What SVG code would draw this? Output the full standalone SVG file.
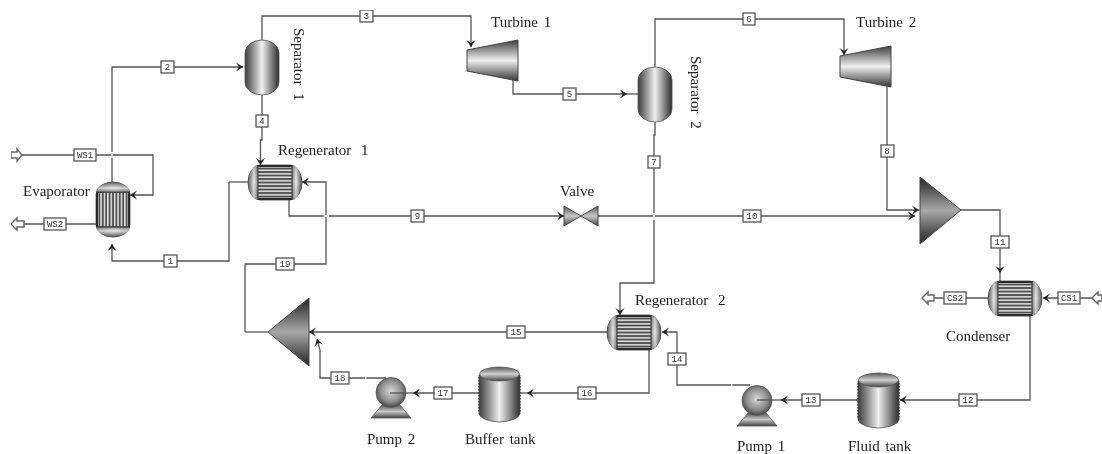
<svg xmlns="http://www.w3.org/2000/svg" xmlns:xlink="http://www.w3.org/1999/xlink" width="1102" height="454" viewBox="0 0 1102 454">
<style>
.c{fill:none;stroke:#555;stroke-width:1.3}
.a{marker-end:url(#ah)}
.gap{fill:none;stroke:#fff;stroke-width:1.6}
.tag rect{fill:#fff;stroke:#555;stroke-width:1.3}
.tag text{font-family:"Liberation Mono",monospace;font-size:9px;fill:#333;text-anchor:middle}
.lbl{font-family:"Liberation Serif",serif;font-size:15px;fill:#222;word-spacing:2px}
.wide{word-spacing:6px}
.port{fill:#fff;stroke:#666;stroke-width:1.4}
.ol{stroke:#555;stroke-width:.8}
</style>
<defs>
<filter id="soft" x="0" y="0" width="100%" height="100%"><feGaussianBlur stdDeviation="0.35"/></filter>
<marker id="ah" viewBox="-8 -5 9 10" refX="0" refY="0" markerWidth="9" markerHeight="10" markerUnits="userSpaceOnUse" orient="auto"><path d="M-7,-4.500 L0,0 L-7,4.500 L-4,0 Z" fill="#222"/></marker>
<linearGradient id="gh"><stop offset="0" stop-color="#3c3c3c"/><stop offset=".3" stop-color="#a8a8a8"/><stop offset=".5" stop-color="#f0f0f0"/><stop offset=".72" stop-color="#9a9a9a"/><stop offset="1" stop-color="#2e2e2e"/></linearGradient>
<linearGradient id="gv" x2="0" y2="1"><stop offset="0" stop-color="#3c3c3c"/><stop offset=".5" stop-color="#f0f0f0"/><stop offset="1" stop-color="#333"/></linearGradient>
<linearGradient id="gm" x2="0" y2="1"><stop offset="0" stop-color="#222"/><stop offset=".5" stop-color="#a8a8a8"/><stop offset="1" stop-color="#222"/></linearGradient>
<linearGradient id="gvalve" x2="0" y2="1"><stop offset="0" stop-color="#555"/><stop offset=".5" stop-color="#c8c8c8"/><stop offset="1" stop-color="#444"/></linearGradient>
<linearGradient id="gcap" x2="0" y2="1"><stop offset="0" stop-color="#555"/><stop offset=".5" stop-color="#d0d0d0"/><stop offset="1" stop-color="#444"/></linearGradient>
<radialGradient id="gp" cx=".5" cy=".45" r=".6"><stop offset="0" stop-color="#d8d8d8"/><stop offset=".6" stop-color="#8c8c8c"/><stop offset="1" stop-color="#333"/></radialGradient>
<pattern id="st" width="10" height="3.500" patternUnits="userSpaceOnUse"><rect width="10" height="3.500" fill="#505050"/><rect y="1" width="10" height="1.600" fill="#e0e0e0"/></pattern>
<symbol id="hx" width="54" height="35" viewBox="0 0 54 35" overflow="visible">
<path d="M12,0 H42 A12,17.500 0 0 1 42,35 H12 A12,17.500 0 0 1 12,0 Z" fill="url(#gcap)" stroke="#444" stroke-width=".8"/>
<path d="M12,0 A12,17.500 0 0 0 12,35 Z" fill="url(#gh)" opacity=".75"/>
<path d="M42,0 A12,17.500 0 0 1 42,35 Z" fill="url(#gh)" opacity=".75"/>
<rect x="10" y="0" width="34" height="35" fill="url(#st)"/>
<rect x="10" y="0" width="34" height="2" fill="#2a2a2a"/><rect x="10" y="33" width="34" height="2" fill="#2a2a2a"/>
<path d="M10,0 V35 M44,0 V35" stroke="#333" stroke-width="1" fill="none"/>
</symbol>
<symbol id="sep" width="34" height="55" viewBox="0 0 34 55" overflow="visible">
<path d="M0,13 A17,13 0 0 1 34,13 V42 A17,13 0 0 1 0,42 Z" fill="url(#gh)" class="ol"/>
</symbol>
<symbol id="tank" width="41" height="55" viewBox="0 0 41 55" overflow="visible">
<path d="M0,8 V47 Q3,54 20.500,55 Q38,54 41,47 V8 Z" fill="url(#gh)" class="ol"/>
<ellipse cx="20.500" cy="7" rx="20" ry="7" fill="url(#gcap)" class="ol"/>
<path d="M0,10 V46 M41,10 V46" stroke="#333" stroke-width="1.200" stroke-dasharray="1.500 1.500" fill="none"/>
</symbol>
<symbol id="pump" width="40" height="41" viewBox="0 0 40 41" overflow="visible">
<path d="M0,41 L11,28 H29 L40,41 Z" fill="url(#gvalve)" class="ol"/>
<circle cx="20" cy="15.500" r="15" fill="url(#gp)" class="ol"/>
</symbol>
<symbol id="turb" width="52" height="41" viewBox="0 0 52 41" overflow="visible">
<path d="M0,10 L51,0 V41 L0,31 Z" fill="url(#gv)" stroke="#444" stroke-width="1"/>
</symbol>
</defs>
<rect width="1102" height="454" fill="#fff"/>
<g filter="url(#soft)">
<g id="connectors">
<path class="c" d="M229,182 H248"/>
<path class="c a" d="M229,182 V261 H112 V244"/>
<path class="c a" d="M112,182 V67 H243"/>
<path class="c a" d="M262,40 V16 H471 V47"/>
<path class="c a" d="M262,94 V140 H260.500 V165"/>
<path class="c a" d="M22,155 H153 V195 H130"/>
<path class="c" d="M96,224 H24"/>
<path class="c a" d="M245,332 V264 H326 V182 H302"/>
<path class="c" d="M245,332 H268"/>
<path class="c a" d="M289,200 V216 H564"/>
<path class="c a" d="M598,216 H915"/>
<path class="c a" d="M513,80 V94 H627"/><path class="c" d="M627,94 H638"/>
<path class="c a" d="M655,67 V19 H844 V55"/>
<path class="c a" d="M655,121 V135 H654 V283 H620 V315"/>
<path class="c a" d="M887,87 V210 H919"/>
<path class="c a" d="M961,210 H1000 V273"/><path class="c" d="M1000,273 V281"/>
<path class="c a" d="M1092,298 H1043"/>
<path class="c" d="M988,298 H934"/>
<path class="c a" d="M1030,315 V400 H900"/>
<path class="c a" d="M858,400 H781"/><path class="c" d="M781,400 H757"/>
<path class="c a" d="M750,385 H677 V332 H662"/>
<path class="c a" d="M649,350 V393 H527"/><path class="c" d="M527,393 H520"/>
<path class="c a" d="M479,393 H413"/><path class="c" d="M413,393 H390"/>
<path class="c a" d="M607,332 H309"/>
<path class="c a" d="M386,378 H320 V350 L317,339"/>
<path class="gap" d="M112,152 V158 M654,213 V220 M323.500,216 H329 M731,385 H732.500 M365,378 H366.500"/>

<path class="port" d="M11,152 H17 V149 L22,155 L17,161 V158 H11 Z"/>
<path class="port" d="M11,224 L17,218 V221 H24 V227 H17 V230 Z"/>
<path class="port" d="M922,298 L928,292 V295 H934 V301 H928 V304 Z"/>
<path class="port" d="M1092,298 L1098,292 V295 H1102 V301 H1098 V304 Z"/>

<g class="tag"><rect x="161" y="61" width="13" height="12"/><text x="167.500" y="70">2</text></g>
<g class="tag"><rect x="360" y="10" width="13" height="12"/><text x="366.500" y="19">3</text></g>
<g class="tag"><rect x="256" y="115" width="12" height="12"/><text x="262" y="124">4</text></g>
<g class="tag"><rect x="74" y="149" width="22" height="12"/><text x="85" y="158">WS1</text></g>
<g class="tag"><rect x="44" y="218" width="22" height="12"/><text x="55" y="227">WS2</text></g>
<g class="tag"><rect x="164" y="255" width="13" height="12"/><text x="170.500" y="264">1</text></g>
<g class="tag"><rect x="276" y="258" width="18" height="12"/><text x="285" y="267">19</text></g>
<g class="tag"><rect x="411" y="210" width="13" height="12"/><text x="417.500" y="219">9</text></g>
<g class="tag"><rect x="743" y="210" width="18" height="12"/><text x="752" y="219">10</text></g>
<g class="tag"><rect x="563" y="88" width="13" height="12"/><text x="569.500" y="97">5</text></g>
<g class="tag"><rect x="743" y="13" width="12" height="12"/><text x="749" y="22">6</text></g>
<g class="tag"><rect x="648" y="156" width="12" height="12"/><text x="654" y="165">7</text></g>
<g class="tag"><rect x="881" y="145" width="13" height="12"/><text x="887" y="154">8</text></g>
<g class="tag"><rect x="991" y="236" width="18" height="12"/><text x="1000" y="245">11</text></g>
<g class="tag"><rect x="1058" y="292" width="22" height="12"/><text x="1069" y="301">CS1</text></g>
<g class="tag"><rect x="944" y="292" width="22" height="12"/><text x="955" y="301">CS2</text></g>
<g class="tag"><rect x="959" y="394" width="18" height="12"/><text x="968" y="403">12</text></g>
<g class="tag"><rect x="802" y="394" width="18" height="12"/><text x="811" y="403">13</text></g>
<g class="tag"><rect x="668" y="353" width="18" height="12"/><text x="677" y="362">14</text></g>
<g class="tag"><rect x="507" y="326" width="18" height="12"/><text x="516" y="335">15</text></g>
<g class="tag"><rect x="578" y="387" width="18" height="12"/><text x="587" y="396">16</text></g>
<g class="tag"><rect x="434" y="387" width="18" height="12"/><text x="443" y="396">17</text></g>
<g class="tag"><rect x="331" y="372" width="18" height="12"/><text x="340" y="381">18</text></g>
</g>

<g id="evaporator"><use href="#hx" xlink:href="#hx" transform="translate(130,182) rotate(90) scale(1.020,.970)"/><text class="lbl" x="23" y="196">Evaporator</text></g>
<g id="separator1"><use href="#sep" xlink:href="#sep" x="245" y="40"/><text class="lbl" style="word-spacing:4px" transform="translate(294,28) rotate(90)">Separator 1</text></g>
<g id="regenerator1"><use href="#hx" xlink:href="#hx" x="248" y="165"/><text class="lbl wide" x="278" y="155">Regenerator 1</text></g>
<g id="turbine1"><use href="#turb" xlink:href="#turb" x="467" y="40"/><text class="lbl" x="491" y="27">Turbine 1</text></g>
<g id="separator2"><use href="#sep" xlink:href="#sep" x="638" y="67"/><text class="lbl" style="word-spacing:4px" transform="translate(691,56) rotate(90)">Separator 2</text></g>
<g id="turbine2"><use href="#turb" xlink:href="#turb" x="840" y="46"/><text class="lbl" x="856" y="27">Turbine 2</text></g>
<g id="valve"><path d="M564,206 L598,226 V206 L564,226 Z" fill="url(#gvalve)" stroke="#444" stroke-width="1"/><text class="lbl" x="560" y="196">Valve</text></g>
<g id="mixer"><path d="M920,177 L961,210 L920,244 Z" fill="url(#gm)" stroke="#444" stroke-width="1"/></g>
<g id="condenser"><use href="#hx" xlink:href="#hx" x="988" y="281"/><text class="lbl" x="946" y="341">Condenser</text></g>
<g id="regenerator2"><use href="#hx" xlink:href="#hx" x="607" y="315"/><text class="lbl wide" x="635" y="305">Regenerator 2</text></g>
<g id="splitter"><path d="M268,332 L309,298 V366 Z" fill="url(#gm)" stroke="#444" stroke-width="1"/></g>
<g id="pump2"><use href="#pump" xlink:href="#pump" x="371" y="377"/><path class="c" d="M390,393 H405"/><text class="lbl" x="367" y="444">Pump 2</text></g>
<g id="buffertank"><use href="#tank" xlink:href="#tank" x="479" y="367"/><text class="lbl" x="465" y="444">Buffer tank</text></g>
<g id="pump1"><use href="#pump" xlink:href="#pump" x="737" y="385"/><path class="c" d="M757,400 H772"/><text class="lbl" x="737" y="451">Pump 1</text></g>
<g id="fluidtank"><use href="#tank" xlink:href="#tank" x="858" y="373"/><text class="lbl" x="848" y="451">Fluid tank</text></g>
</g>
</svg>
